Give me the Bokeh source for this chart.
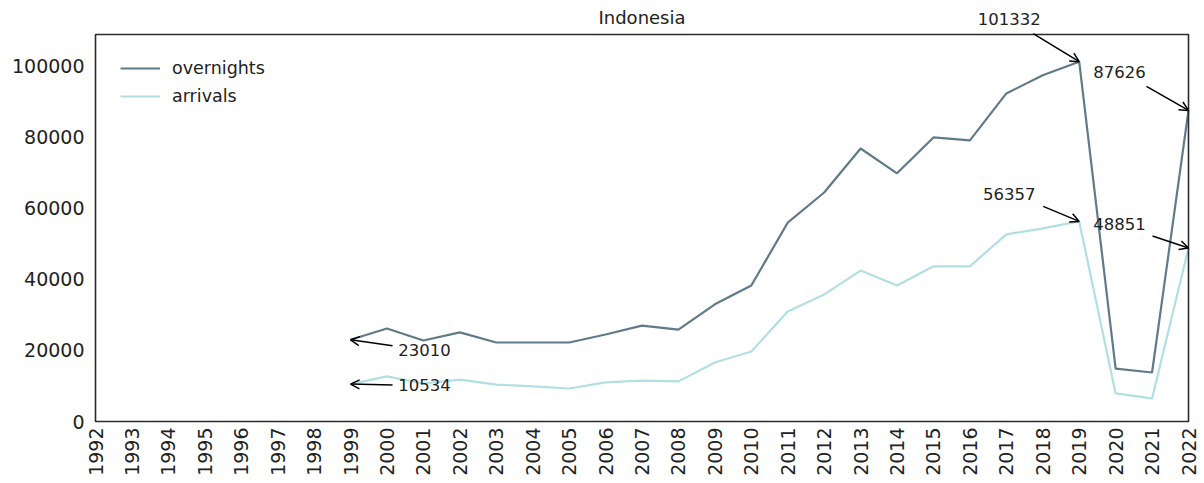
import math
from bokeh.plotting import figure
from bokeh.models import (ColumnDataSource, Range1d, FixedTicker, Arrow, OpenHead,
                          Legend, LegendItem, Label, BoxAnnotation,
                          BasicTickFormatter)
from bokeh.embed import file_html
from bokeh.resources import INLINE

chart_title = "Indonesia"
tick_years = list(range(1992, 2023))
y_ticks = [0, 20000, 40000, 60000, 80000, 100000]
years = list(range(1999, 2023))
overnights = [23010, 26200, 22800, 25100, 22250, 22250, 22250, 24500, 27000, 25900,
              33000, 38300, 56000, 64500, 76900, 69900, 80000, 79200, 92400, 97500,
              101332, 14900, 13800, 87626]
arrivals = [10534, 12700, 10700, 11800, 10400, 9900, 9300, 11000, 11500, 11300,
            16600, 19700, 31000, 35800, 42500, 38300, 43700, 43700, 52700, 54400,
            56357, 7900, 6500, 48851]

# annotated points: (series, year)
annotated = [("overnights", 1999), ("overnights", 2019), ("overnights", 2022),
             ("arrivals", 1999), ("arrivals", 2019), ("arrivals", 2022)]
# style: pixel offsets (text dx, dy, arrow-start dx, dy)
ann_style = [(74, -10, 42, -6), (-70, 43, -46, 28), (-69, 38, -42, 24),
             (74, -1, 42, -1), (-70, 27, -36, 15), (-69, 24, -36, 12)]

OV_COLOR = "#5f7b8a"
AR_COLOR = "#b2dfe3"
FONT = "DejaVu Sans"
TXT = "#222222"
BOX = "#2a2a2a"

X0, X1 = 1992, 2022
Y0, Y1 = 0, 109000
FW, FH = 1093, 387      # visible box size in px
TOP = 27                # extra room above the box (title / top annotation)
M = 2                   # room so the box edges are not clipped

px_per_x = FW / (X1 - X0)
px_per_y = FH / (Y1 - Y0)

p = figure(frame_width=FW + 2 * M, frame_height=FH + TOP + M,
           output_backend="svg", toolbar_location=None, title=None,
           x_range=Range1d(X0 - M / px_per_x, X1 + M / px_per_x),
           y_range=Range1d(Y0 - M / px_per_y, Y1 + TOP / px_per_y),
           min_border_left=95 - M, min_border_right=10, min_border_top=7,
           min_border_bottom=50)

src = ColumnDataSource(dict(year=years, overnights=overnights, arrivals=arrivals))
r1 = p.line("year", "overnights", source=src, line_color=OV_COLOR, line_width=2.2)
r2 = p.line("year", "arrivals", source=src, line_color=AR_COLOR, line_width=2.2)

# the visible box
p.add_layout(BoxAnnotation(left=X0, right=X1, bottom=Y0, top=Y1, fill_alpha=0,
                           line_color=BOX, line_alpha=1.0, line_width=1.6))

# title drawn inside the extended frame
p.add_layout(Label(x=(X0 + X1) / 2, y=Y1, y_offset=17, text=chart_title,
                   text_align="center", text_baseline="middle",
                   text_font=FONT, text_font_size="18px", text_color=TXT))

legend = Legend(items=[LegendItem(label="overnights", renderers=[r1]),
                       LegendItem(label="arrivals", renderers=[r2])],
                location=(25 + M, FH + TOP + M - 51 - 48))
legend.label_text_font = FONT
legend.label_text_font_size = "17.5px"
legend.label_text_color = TXT
legend.glyph_width = 40
legend.glyph_height = 20
legend.label_height = 20
legend.spacing = 8
legend.label_standoff = 12
legend.margin = 0
legend.padding = 0
legend.background_fill_alpha = 0
legend.border_line_color = None
p.add_layout(legend)

p.xgrid.visible = False
p.ygrid.visible = False
p.outline_line_color = None

p.xaxis.ticker = FixedTicker(ticks=tick_years)
p.xaxis.major_label_orientation = math.pi / 2
p.yaxis.ticker = FixedTicker(ticks=y_ticks)
p.yaxis.formatter = BasicTickFormatter(use_scientific=False)

for ax in (p.xaxis[0], p.yaxis[0]):
    ax.axis_line_color = None
    ax.major_tick_line_color = None
    ax.minor_tick_line_color = None
    ax.major_tick_out = 0
    ax.major_tick_in = 0
    ax.minor_tick_out = 0
    ax.major_label_text_font = FONT
    ax.major_label_text_font_size = "19px"
    ax.major_label_text_color = TXT
p.yaxis[0].major_label_standoff = 9
p.xaxis[0].major_label_standoff = 4

series = {"overnights": overnights, "arrivals": arrivals}
for (name, yr), (tdx, tdy, adx, ady) in zip(annotated, ann_style):
    val = series[name][years.index(yr)]
    p.add_layout(Label(x=yr, y=val, x_offset=tdx, y_offset=tdy, text=str(val),
                       text_align="center", text_baseline="middle",
                       text_font=FONT, text_font_size="16.5px", text_color=TXT))
    p.add_layout(Arrow(x_start=yr + adx / px_per_x, y_start=val + ady / px_per_y,
                       x_end=yr, y_end=val, line_color="black", line_width=1.5,
                       end=OpenHead(size=9, line_width=1.5, line_color="black")))

open("out.html", "w").write(file_html(p, INLINE))
